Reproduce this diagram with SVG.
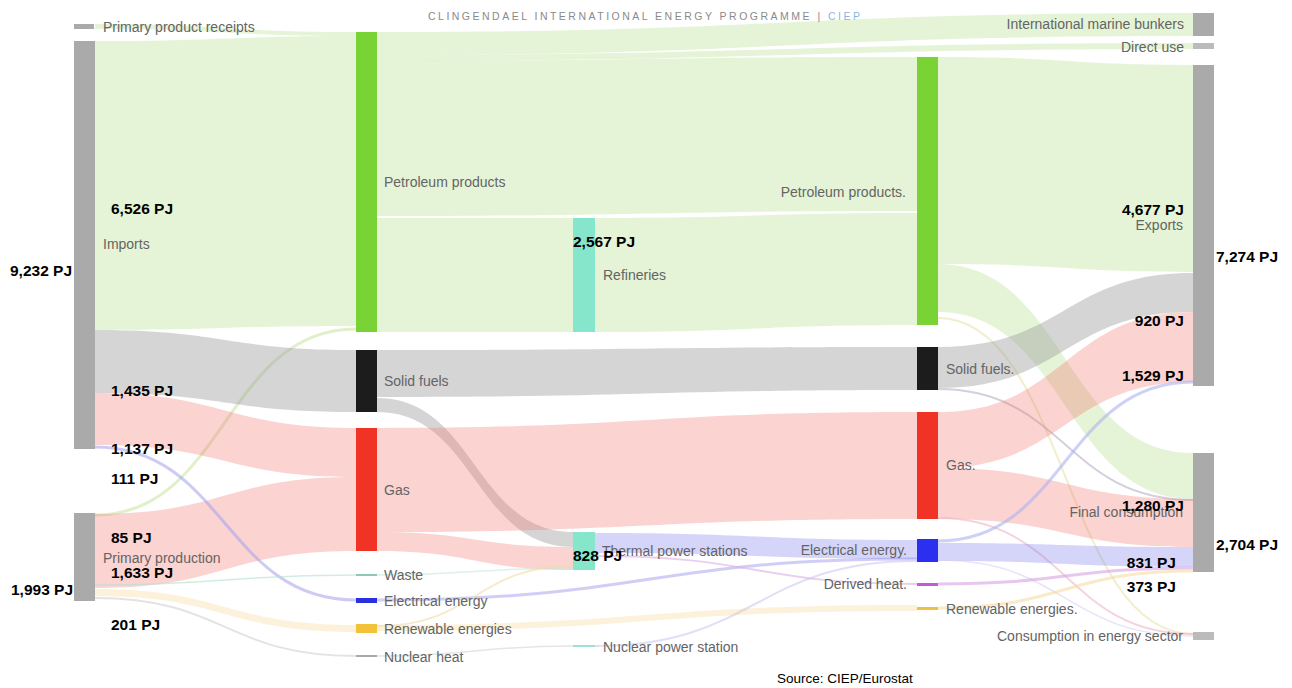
<svg xmlns="http://www.w3.org/2000/svg" width="1292" height="688" viewBox="0 0 1292 688">
<style>
.fg{fill:#b5e08a;fill-opacity:.35}
.fs{fill:#9a9a9a;fill-opacity:.42}
.fr{fill:#f47a72;fill-opacity:.33}
.fe{fill:#8080ee;fill-opacity:.33}
.fy{fill:#f5c96a;fill-opacity:.25}
.ln{fill:none;stroke-opacity:.6}
.nl{font-family:"Liberation Sans",Arial,sans-serif;font-size:14px;fill:#646464}
.nr{font-family:"Liberation Sans",Arial,sans-serif;font-size:14px;fill:#646464;text-anchor:end}
.pj{font-family:"Liberation Sans",Arial,sans-serif;font-size:15.5px;font-weight:bold;fill:#000}
.pjr{font-family:"Liberation Sans",Arial,sans-serif;font-size:15.5px;font-weight:bold;fill:#000;text-anchor:end}
.ng{fill:#aaaaaa}
</style>
<rect width="1292" height="688" fill="#ffffff"/>
<g id="connectors">
  <path class="fg" d="M95,24 C225,24 225,32 356,32 L356,36 C225,36 225,29 95,29 Z"/>
  <path class="fg" d="M95,41 C225,41 225,36 356,36 L356,326 C225,326 225,330 95,330 Z"/>
  <path class="fg" d="M377,32 C785,32 785,13 1193,13 L1193,36 C785,36 785,55 377,55 Z"/>
  <path class="fg" d="M377,55 C785,55 785,43 1193,43 L1193,49 C785,49 785,61 377,61 Z"/>
  <path class="fg" d="M377,61 C647,61 647,57 917,57 L917,211 C647,211 647,216 377,216 Z"/>
  <path class="fg" d="M377,218 L573,218 L573,332 L377,332 Z"/>
  <path class="fg" d="M595,218 C756,218 756,213 917,213 L917,325 C756,325 756,332 595,332 Z"/>
  <path class="fg" d="M938,57 C1065,57 1065,65 1193,65 L1193,272 C1065,272 1065,264 938,264 Z"/>
  <path class="fg" d="M938,264 C1065,264 1065,453 1193,453 L1193,499 C1065,499 1065,312 938,312 Z"/>
  <path class="ln" d="M95,515 C225,515 225,329 356,329" stroke="#c9e6a8" stroke-width="3"/>
  <path class="ln" d="M938,318 C1065,318 1065,634 1193,634" stroke="#e6e2a8" stroke-width="2"/>
  <path class="fs" d="M95,330 C225,330 225,350 356,350 L356,412 C225,412 225,393 95,393 Z"/>
  <path class="fs" d="M377,350 C647,350 647,347 917,347 L917,390 C647,390 647,397 377,397 Z"/>
  <path class="fs" d="M377,398 C475,398 475,532 573,532 L573,547 C475,547 475,412 377,412 Z"/>
  <path class="fs" d="M938,347 C1065,347 1065,273 1193,273 L1193,312 C1065,312 1065,388 938,388 Z"/>
  <path class="ln" d="M938,389 C1065,389 1065,500 1193,500" stroke="#b9aec6" stroke-width="2"/>
  <path class="fr" d="M95,393 C225,393 225,428 356,428 L356,477 C225,477 225,445 95,445 Z"/>
  <path class="fr" d="M95,514 C225,514 225,477 356,477 L356,551 C225,551 225,588 95,588 Z"/>
  <path class="fr" d="M377,428 C647,428 647,412 917,412 L917,519 C647,519 647,532 377,532 Z"/>
  <path class="fr" d="M377,532 C475,532 475,547 573,547 L573,570 C475,570 475,551 377,551 Z"/>
  <path class="fr" d="M938,412 C1065,412 1065,312 1193,312 L1193,382 C1065,382 1065,468 938,468 Z"/>
  <path class="fr" d="M938,468 C1065,468 1065,499 1193,499 L1193,547 C1065,547 1065,519 938,519 Z"/>
  <path class="ln" d="M938,518 C1065,518 1065,634 1193,634" stroke="#eeb6c4" stroke-width="2"/>
  <path class="ln" d="M95,447 C225,447 225,600 356,600" stroke="#aca6ec" stroke-width="3"/>
  <path class="ln" d="M377,600 C647,600 647,559 917,559" stroke="#b3aef0" stroke-width="3"/>
  <path class="fe" d="M595,533 C756,533 756,540 917,540 L917,559 C756,559 756,553 595,553 Z"/>
  <path class="ln" d="M595,556 C756,556 756,584 917,584" stroke="#dcaee2" stroke-width="2"/>
  <path class="ln" d="M595,646 C756,646 756,561 917,561" stroke="#cdc8f2" stroke-width="2"/>
  <path class="ln" d="M938,541 C1065,541 1065,382 1193,382" stroke="#adb2f0" stroke-width="3"/>
  <path class="fe" d="M938,543 C1065,543 1065,547 1193,547 L1193,567 C1065,567 1065,561 938,561 Z"/>
  <path class="ln" d="M938,560 C1065,560 1065,636 1193,636" stroke="#d6d2f2" stroke-width="1.5"/>
  <path class="ln" d="M938,584 C1065,584 1065,568 1193,568" stroke="#d9a2e2" stroke-width="3"/>
  <path class="ln" d="M938,608 C1065,608 1065,571 1193,571" stroke="#f5dca4" stroke-width="3"/>
  <path class="fy" d="M95,589 C225,589 225,625 356,625 L356,632 C225,632 225,596 95,596 Z"/>
  <path class="fy" d="M377,625 C647,625 647,605 917,605 L917,611 C647,611 647,631 377,631 Z"/>
  <path class="ln" d="M95,585 C225,585 225,575 356,575" stroke="#b6dfcf" stroke-width="1.5"/>
  <path class="ln" d="M95,598 C225,598 225,656 356,656" stroke="#d0d0d0" stroke-width="2"/>
  <path class="ln" d="M377,575 C475,575 475,568 573,568" stroke="#c6e6da" stroke-width="1.5"/>
  <path class="ln" d="M377,656 C475,656 475,646 573,646" stroke="#d4d4d4" stroke-width="1.5"/>
  <path class="ln" d="M377,626 C475,626 475,566 573,566" stroke="#f2dca6" stroke-width="2"/>
</g>
<g id="title">
  <text x="428" y="20" font-family="Liberation Sans, Arial, sans-serif" font-size="10.5" fill="#8a8a8a" textLength="432" lengthAdjust="spacing">CLINGENDAEL INTERNATIONAL ENERGY PROGRAMME | <tspan fill="#8cb6dc">CIEP</tspan></text>
</g>
<g id="node-primary-product-receipts"><rect class="ng" x="74" y="24" width="20" height="5"/><text class="nl" x="103" y="32">Primary product receipts</text></g>
<g id="node-imports"><rect class="ng" x="74" y="41" width="21" height="408"/><text class="nl" x="103" y="249">Imports</text></g>
<g id="node-primary-production"><rect class="ng" x="74" y="513" width="21" height="88"/><text class="nl" x="103" y="563" fill="#7d6f75">Primary production</text></g>
<g id="node-petroleum-1"><rect x="356" y="32" width="21" height="300" fill="#7ad334"/><text class="nl" x="384" y="187">Petroleum products</text></g>
<g id="node-solid-1"><rect x="356" y="350" width="21" height="62" fill="#1c1c1c"/><text class="nl" x="384" y="386">Solid fuels</text></g>
<g id="node-gas-1"><rect x="356" y="428" width="21" height="123" fill="#f03324"/><text class="nl" x="384" y="495">Gas</text></g>
<g id="node-waste"><rect x="356" y="574" width="21" height="2" fill="#8ccab3"/><text class="nl" x="384" y="580">Waste</text></g>
<g id="node-electrical-1"><rect x="356" y="598" width="21" height="5" fill="#2a2fe0"/><text class="nl" x="384" y="606">Electrical energy</text></g>
<g id="node-renewables-1"><rect x="356" y="624" width="21" height="9" fill="#f2c23a"/><text class="nl" x="384" y="634">Renewable energies</text></g>
<g id="node-nuclear-heat"><rect x="356" y="655" width="21" height="2" fill="#aaaaaa"/><text class="nl" x="384" y="662">Nuclear heat</text></g>
<g id="node-refineries"><rect x="573" y="218" width="22" height="114" fill="#85e6cc"/><text class="nl" x="603" y="280">Refineries</text></g>
<g id="node-thermal"><rect x="573" y="532" width="22" height="38" fill="#85e6cc"/><text class="nl" x="602" y="556">Thermal power stations</text></g>
<g id="node-nuclear-ps"><rect x="573" y="645" width="22" height="2" fill="#9ee0d4"/><text class="nl" x="603" y="652">Nuclear power station</text></g>
<g id="node-petroleum-2"><rect x="917" y="57" width="21" height="268" fill="#7ad334"/><text class="nr" x="906" y="197">Petroleum products.</text></g>
<g id="node-solid-2"><rect x="917" y="347" width="21" height="43" fill="#1c1c1c"/><text class="nl" x="946" y="374">Solid fuels.</text></g>
<g id="node-gas-2"><rect x="917" y="412" width="21" height="107" fill="#f03324"/><text class="nl" x="946" y="470">Gas.</text></g>
<g id="node-electrical-2"><rect x="917" y="539" width="21" height="23" fill="#2a2ff0"/><text class="nr" x="907" y="555">Electrical energy.</text></g>
<g id="node-derived-heat"><rect x="917" y="583" width="21" height="3" fill="#cc55dd"/><text class="nr" x="907" y="589">Derived heat.</text></g>
<g id="node-renewables-2"><rect x="917" y="607" width="21" height="3" fill="#f0c040"/><text class="nl" x="946" y="614">Renewable energies.</text></g>
<g id="node-bunkers"><rect class="ng" x="1193" y="13" width="21" height="23"/><text class="nr" x="1184" y="29">International marine bunkers</text></g>
<g id="node-direct-use"><rect x="1193" y="43" width="21" height="6" fill="#bbbbbb"/><text class="nr" x="1184" y="52">Direct use</text></g>
<g id="node-exports"><rect class="ng" x="1193" y="65" width="21" height="321"/><text class="nr" x="1183" y="230">Exports</text></g>
<g id="node-final"><rect class="ng" x="1193" y="453" width="21" height="119"/><text class="nr" x="1183" y="517">Final consumption</text></g>
<g id="node-energy-sector"><rect x="1193" y="632" width="21" height="8" fill="#bbbbbb"/><text class="nr" x="1183" y="641">Consumption in energy sector</text></g>
<g id="values">
  <text class="pj" x="10" y="276">9,232 PJ</text>
  <text class="pj" x="111" y="214">6,526 PJ</text>
  <text class="pj" x="111" y="396">1,435 PJ</text>
  <text class="pj" x="111" y="454">1,137 PJ</text>
  <text class="pj" x="111" y="484">111 PJ</text>
  <text class="pj" x="111" y="543">85 PJ</text>
  <text class="pj" x="111" y="578">1,633 PJ</text>
  <text class="pj" x="11" y="595">1,993 PJ</text>
  <text class="pj" x="111" y="630">201 PJ</text>
  <text class="pj" x="573" y="247">2,567 PJ</text>
  <text class="pj" x="573" y="561">828 PJ</text>
  <text class="pjr" x="1184" y="215">4,677 PJ</text>
  <text class="pj" x="1216" y="262">7,274 PJ</text>
  <text class="pjr" x="1184" y="326">920 PJ</text>
  <text class="pjr" x="1184" y="381">1,529 PJ</text>
  <text class="pjr" x="1184" y="511">1,280 PJ</text>
  <text class="pj" x="1216" y="550">2,704 PJ</text>
  <text class="pjr" x="1176" y="568">831 PJ</text>
  <text class="pjr" x="1176" y="592">373 PJ</text>
</g>
<text x="777" y="683" font-family="Liberation Sans, Arial, sans-serif" font-size="13.5" fill="#000">Source: CIEP/Eurostat</text>
</svg>
